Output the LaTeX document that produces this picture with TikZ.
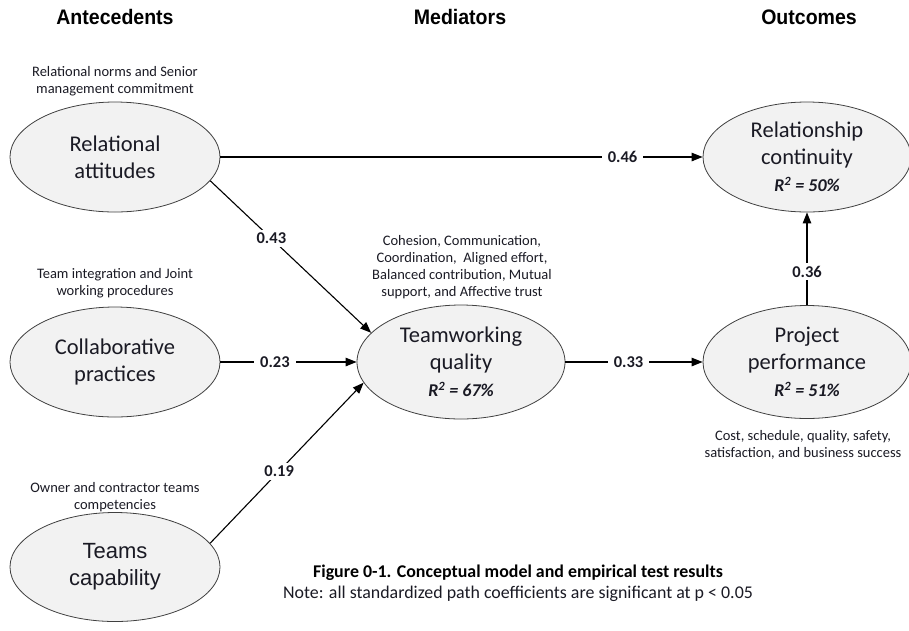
\documentclass[tikz,border=0pt]{standalone}
\usepackage{fontspec}
\usepackage{graphicx}
\setmainfont{Carlito}
\newfontfamily\arialfont{Liberation Sans}
\usetikzlibrary{arrows.meta,shapes.geometric}
\definecolor{txt}{HTML}{1A1A24}
\definecolor{ellfill}{HTML}{F2F2F2}
\begin{document}
\begin{tikzpicture}[x=1pt,y=-1pt,
  latent/.style={ellipse, draw=black!75, line width=0.8pt, fill=ellfill,
    inner sep=0pt, align=center, text=txt,
    font=\fontsize{22.5}{27}\selectfont},
  note/.style={align=center, text=txt, inner sep=0pt,
    font=\fontsize{14.5}{17}\selectfont},
  coef/.style={fill=white, inner xsep=6pt, inner ysep=3pt, text=txt,
    font=\bfseries\fontsize{16.5}{20}\selectfont},
  link/.style={draw=black, line width=1.1pt,
    -{Triangle[length=11pt,width=8.5pt]}},
  head/.style={inner sep=0pt, anchor=base,
    font=\arialfont\bfseries\fontsize{21}{24}\selectfont}]
\useasboundingbox (0,0) rectangle (909,630);

% column headings
\node[head] (hA) at (115,24) {\scalebox{0.93}[1]{Antecedents}};
\node[head] (hM) at (460,24) {\scalebox{0.93}[1]{Mediators}};
\node[head] (hO) at (809,24) {\scalebox{0.93}[1]{Outcomes}};

% latent constructs
\node[latent, minimum width=210pt, minimum height=110pt] (RA) at (115,157)
  {Relational\\attitudes};
\node[latent, minimum width=210pt, minimum height=110pt] (CP) at (115,362)
  {Collaborative\\practices};
\node[latent, minimum width=210pt, minimum height=109pt,
  font=\arialfont\fontsize{22}{27}\selectfont] (TC) at (115,567)
  {Teams\\capability};
\node[latent, minimum width=208pt, minimum height=114pt] (TQ) at (461,362)
  {Teamworking\\quality\\{\fontsize{18}{27}\selectfont\bfseries\itshape R\textsuperscript{2} = 67\%}};
\node[latent, minimum width=208pt, minimum height=110pt] (RC) at (807,157)
  {Relationship\\continuity\\{\fontsize{18}{27}\selectfont\bfseries\itshape R\textsuperscript{2} = 50\%}};
\node[latent, minimum width=208pt, minimum height=113pt] (PP) at (807,362)
  {Project\\performance\\{\fontsize{18}{27}\selectfont\bfseries\itshape R\textsuperscript{2} = 51\%}};

% construct descriptions
\node[note] (nRA) at (115,81) {Relational norms and Senior\\management commitment};
\node[note] (nCP) at (115,283) {Team integration and Joint\\working procedures};
\node[note] (nTC) at (115,497) {Owner and contractor teams\\competencies};
\node[note] (nTQ) at (462,267) {Cohesion, Communication,\\Coordination,\ \ Aligned effort,\\Balanced contribution, Mutual\\support, and Affective trust};
\node[note] (nPP) at (803,445) {Cost, schedule, quality, safety,\\satisfaction, and business success};

% structural paths
\draw[link] (RA.east) -- node[coef, pos=0.834] {0.46} (RC.west);
\draw[link] (RA.-14) -- node[coef, pos=0.38] {0.43} (TQ.162);
\draw[link] (CP.east) -- node[coef, pos=0.40] {0.23} (TQ.west);
\draw[link] (TC.14) -- node[coef, pos=0.45] {0.19} (TQ.-168);
\draw[link] (TQ.east) -- node[coef, pos=0.46] {0.33} (PP.west);
\draw[link] (PP.north) -- node[coef, pos=0.36] {0.36} (RC.south);

% caption
\node[text=black, inner sep=0pt] (cap) at (518,573)
  {\bfseries\fontsize{17.9}{21}\selectfont Figure 0-1. Conceptual model and empirical test results};
\node[text=txt, inner sep=0pt] (capnote) at (518,594)
  {\fontsize{17.9}{21}\selectfont Note: all standardized path coefficients are significant at p < 0.05};
\end{tikzpicture}
\end{document}
